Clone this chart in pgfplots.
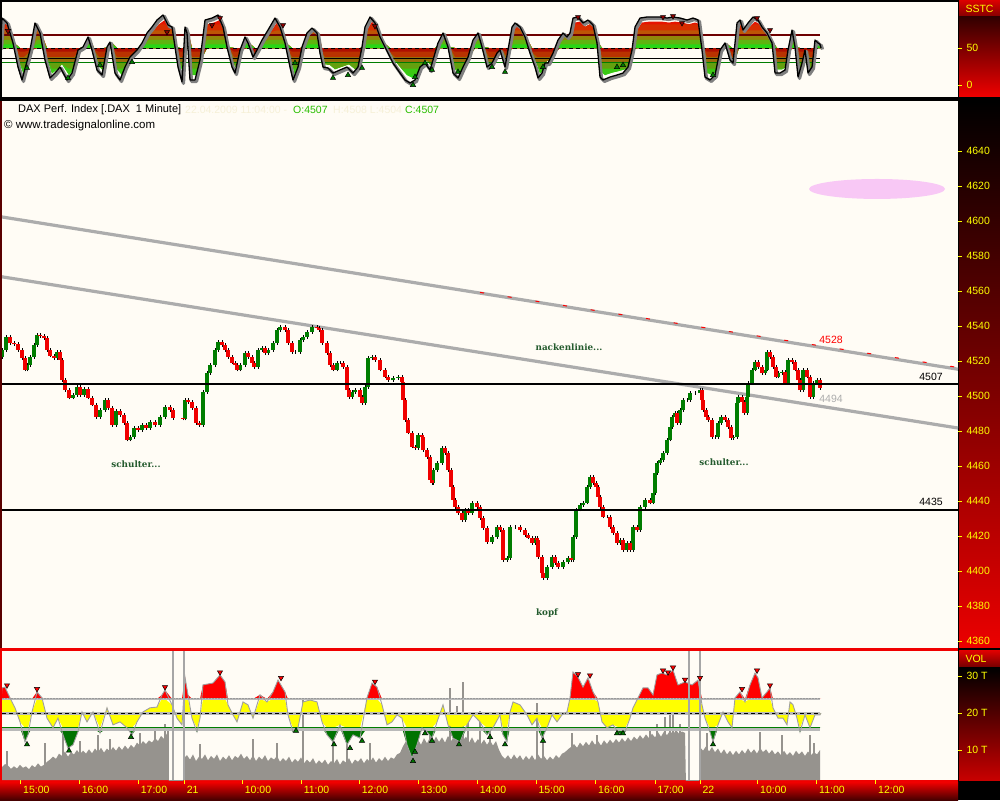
\documentclass[border=0pt]{standalone}
\usepackage{fontspec}
\setmainfont{Liberation Sans}
\newfontfamily\annotfont{DejaVu Serif}
\usepackage{pgfplots}
\usepackage{pgfplotstable}
\pgfplotsset{compat=1.18}

\definecolor{cream}{RGB}{255,252,245}
\definecolor{cgreen}{RGB}{0,125,0}
\definecolor{cred}{RGB}{240,0,0}
\definecolor{trend}{RGB}{172,172,172}
\definecolor{annot}{RGB}{35,90,45}
\definecolor{tickyellow}{RGB}{255,255,0}
\definecolor{volgray}{RGB}{150,147,142}
\definecolor{ogreen}{RGB}{40,190,0}
\definecolor{faint}{RGB}{246,240,215}
\definecolor{pinkell}{RGB}{248,200,245}
\definecolor{vyellow}{RGB}{255,255,0}
\definecolor{vgreen}{RGB}{0,115,0}
\definecolor{vred}{RGB}{255,0,0}
\definecolor{lvlred}{RGB}{110,0,0}
\definecolor{gutred}{RGB}{235,0,0}
\definecolor{darkred}{RGB}{90,0,0}
% SSTC gradient bands
\definecolor{sa1}{RGB}{40,215,20}
\definecolor{sa2}{RGB}{95,180,15}
\definecolor{sa3}{RGB}{145,135,10}
\definecolor{sa4}{RGB}{190,85,5}
\definecolor{sa5}{RGB}{215,45,0}
\definecolor{sa6}{RGB}{230,20,0}
\definecolor{sb1}{RGB}{175,15,0}
\definecolor{sb2}{RGB}{185,50,0}
\definecolor{sb3}{RGB}{150,110,10}
\definecolor{sb4}{RGB}{100,160,15}
\definecolor{sb5}{RGB}{60,200,20}
\definecolor{sb6}{RGB}{40,215,20}

\newcommand\fs{\fontsize{10.5}{12}\selectfont}
\newcommand\sig{(50+0.85*(\thisrow{v}-50))}

\pgfplotstableread{
x o c
2 4522.0 4526.3
6 4526.3 4533.7
10 4533.7 4530.3
14 4530.3 4529.7
18 4529.7 4526.3
22 4526.3 4521.7
25 4521.7 4514.9
27 4514.9 4517.7
30 4517.7 4522.3
34 4522.3 4529.1
37 4529.1 4534.9
40 4534.9 4534.3
44 4534.3 4533.1
47 4533.1 4526.3
50 4526.3 4522.9
54 4522.9 4521.7
57 4521.7 4525.1
60 4525.1 4520.6
62 4520.6 4509.1
65 4509.1 4503.4
69 4503.4 4498.9
73 4498.9 4500.6
77 4500.6 4505.1
80 4505.1 4500.6
84 4500.6 4504.0
88 4504.0 4498.9
92 4498.9 4494.9
96 4494.9 4488.0
100 4488.0 4492.0
105 4492.0 4497.7
108 4497.7 4493.1
112 4493.1 4483.4
116 4483.4 4491.4
120 4491.4 4489.1
124 4489.1 4484.6
127 4484.6 4474.9
130 4474.9 4476.6
134 4476.6 4481.7
138 4481.7 4480.6
142 4480.6 4483.4
146 4483.4 4481.7
150 4481.7 4485.1
155 4485.1 4483.4
160 4483.4 4488.0
165 4488.0 4493.7
170 4493.7 4492.0
173 4492.0 4487.4
183 4487.4 4486.9
185 4486.9 4497.7
188 4497.7 4496.6
192 4496.6 4493.1
196 4493.1 4484.6
199 4484.6 4483.4
203 4483.4 4502.3
207 4502.3 4513.1
210 4513.1 4517.7
215 4517.7 4526.3
218 4526.3 4530.9
222 4530.9 4529.1
225 4529.1 4526.3
228 4526.3 4522.3
232 4522.3 4518.9
235 4518.9 4517.7
237 4517.7 4514.9
240 4514.9 4517.7
245 4517.7 4524.6
248 4524.6 4522.3
252 4522.3 4518.9
254 4518.9 4516.6
258 4516.6 4526.3
262 4526.3 4527.4
265 4527.4 4524.6
268 4524.6 4526.3
273 4526.3 4530.3
277 4530.3 4537.7
280 4537.7 4539.4
285 4539.4 4537.7
288 4537.7 4530.3
292 4530.3 4525.1
295 4525.1 4525.1
300 4525.1 4532.0
303 4532.0 4533.7
307 4533.7 4536.6
312 4536.6 4539.4
317 4539.4 4538.9
319 4538.9 4537.7
322 4537.7 4530.3
327 4530.3 4524.6
330 4524.6 4517.7
333 4517.7 4514.9
337 4514.9 4518.9
340 4518.9 4518.9
343 4518.9 4516.6
347 4516.6 4503.4
349 4503.4 4499.4
352 4499.4 4502.3
355 4502.3 4503.4
360 4503.4 4499.4
362 4499.4 4496.0
365 4496.0 4505.1
368 4505.1 4521.7
372 4521.7 4522.3
375 4522.3 4520.6
380 4520.6 4514.9
385 4514.9 4510.9
388 4510.9 4509.1
393 4509.1 4510.3
398 4510.3 4510.9
402 4510.9 4508.0
403 4508.0 4497.7
405 4497.7 4486.3
408 4486.3 4478.9
412 4478.9 4470.9
415 4470.9 4470.3
418 4470.3 4477.7
422 4477.7 4476.6
423 4476.6 4469.1
427 4469.1 4465.1
430 4465.1 4452.0
432 4452.0 4450.3
433 4450.3 4457.7
437 4457.7 4461.7
442 4461.7 4470.3
445 4470.3 4467.4
448 4467.4 4457.7
451 4457.7 4448.0
453 4448.0 4440.6
455 4440.6 4436.6
458 4436.6 4433.1
462 4433.1 4429.1
465 4429.1 4434.9
468 4434.9 4433.1
472 4433.1 4438.9
477 4438.9 4436.6
480 4436.6 4430.3
483 4430.3 4424.6
487 4424.6 4416.6
492 4416.6 4419.4
497 4419.4 4425.1
500 4425.1 4423.4
503 4423.4 4406.3
507 4406.3 4407.4
510 4407.4 4425.1
515 4425.1 4425.1
520 4425.1 4423.4
525 4423.4 4420.6
528 4420.6 4418.9
532 4418.9 4416.0
535 4416.0 4418.9
537 4418.9 4417.7
538 4417.7 4408.0
542 4408.0 4398.9
543 4398.9 4396.0
547 4396.0 4402.3
552 4402.3 4408.0
555 4408.0 4404.6
558 4404.6 4402.3
563 4402.3 4405.1
568 4405.1 4407.4
571 4407.4 4406.3
573 4406.3 4419.4
576 4419.4 4434.9
580 4434.9 4437.7
583 4437.7 4438.9
587 4438.9 4448.0
590 4448.0 4453.7
593 4453.7 4450.3
596 4450.3 4448.0
598 4448.0 4442.3
600 4442.3 4436.6
603 4436.6 4430.9
607 4430.9 4430.9
610 4430.9 4425.1
613 4425.1 4421.7
617 4421.7 4416.0
620 4416.0 4417.7
623 4417.7 4412.0
627 4412.0 4416.0
630 4416.0 4412.0
633 4412.0 4425.1
637 4425.1 4423.4
640 4423.4 4436.6
645 4436.6 4440.6
650 4440.6 4438.9
653 4438.9 4444.6
655 4444.6 4456.0
657 4456.0 4461.7
660 4461.7 4463.4
663 4463.4 4467.4
667 4467.4 4474.9
670 4474.9 4482.3
672 4482.3 4488.0
675 4488.0 4490.3
677 4490.3 4484.6
680 4484.6 4492.0
683 4492.0 4497.7
687 4497.7 4497.7
690 4497.7 4501.7
695 4501.7 4501.7
700 4501.7 4503.4
702 4503.4 4497.7
703 4497.7 4492.0
706 4492.0 4488.0
708 4488.0 4486.3
712 4486.3 4476.6
715 4476.6 4476.6
718 4476.6 4484.6
721 4484.6 4488.0
725 4488.0 4486.3
728 4486.3 4482.3
731 4482.3 4476.0
733 4476.0 4476.6
737 4476.6 4496.0
738 4496.0 4499.4
742 4499.4 4496.6
744 4496.6 4490.3
747 4490.3 4499.4
748 4499.4 4507.4
752 4507.4 4514.9
755 4514.9 4519.4
758 4519.4 4516.6
762 4516.6 4513.1
765 4513.1 4514.9
767 4514.9 4525.1
770 4525.1 4522.3
773 4522.3 4516.6
776 4516.6 4510.9
778 4510.9 4513.1
782 4513.1 4513.7
785 4513.7 4507.4
788 4507.4 4520.6
792 4520.6 4519.4
795 4519.4 4514.9
798 4514.9 4509.1
800 4509.1 4503.4
803 4503.4 4514.9
807 4514.9 4510.9
810 4510.9 4499.4
813 4499.4 4507.4
817 4507.4 4509.1
820 4509.1 4504.6
}\price

\pgfplotstableread{
x v
0 50
2 90.5
7 83.8
13 56.8
18 24.3
22 6.8
30 47.3
35 83.8
40 70.3
45 33.8
50 9.5
55 16.2
60 24.3
67 6.8
72 16.2
78 47.3
83 51.4
88 64.9
92 47.3
97 20.3
102 13.5
107 51.4
110 58.1
115 16.2
120 6.8
125 24.3
130 37.8
137 47.3
142 56.8
147 70.3
152 78.4
157 87.8
163 94.6
168 81.1
172 78.4
175 51.4
178 24.3
182 4.1
185 78.4
187 70.3
190 6.8
195 6.8
200 33.8
205 87.8
212 90.5
218 94.6
223 78.4
227 51.4
232 24.3
235 16.2
240 47.3
245 64.9
248 56.8
253 37.8
257 47.3
262 60.8
268 74.3
275 90.5
280 78.4
285 56.8
290 24.3
293 6.8
298 24.3
302 51.4
307 70.3
312 77.0
317 70.3
320 43.2
323 24.3
328 23.0
333 16.2
340 20.3
347 24.3
353 16.2
358 24.3
362 51.4
365 78.4
370 91.9
375 83.8
380 64.9
383 56.8
388 43.2
393 29.7
400 16.2
405 6.8
410 2.7
415 6.8
420 24.3
425 29.7
430 20.3
433 33.8
438 56.8
443 70.3
448 51.4
453 16.2
458 9.5
463 24.3
468 37.8
473 60.8
478 70.3
482 51.4
487 24.3
492 29.7
497 43.2
500 47.3
505 24.3
508 47.3
512 78.4
515 83.8
520 78.4
525 64.9
530 43.2
535 24.3
538 9.5
542 16.2
545 29.7
548 29.7
553 43.2
558 60.8
563 70.3
567 64.9
570 70.3
573 90.5
578 91.9
583 83.8
588 87.8
593 81.1
597 56.8
600 10.8
603 6.8
610 10.8
617 13.5
623 16.2
628 24.3
632 47.3
635 78.4
640 90.5
647 91.9
653 91.9
660 91.9
667 90.5
673 91.9
680 90.5
687 87.8
693 90.5
698 87.8
702 47.3
705 10.8
710 6.8
715 13.5
720 47.3
725 56.8
730 33.8
733 29.7
737 83.8
740 87.8
743 74.3
748 83.8
753 91.9
758 87.8
762 78.4
767 70.3
772 56.8
775 16.2
780 16.2
785 20.3
788 47.3
792 74.3
795 51.4
798 10.8
802 29.7
805 47.3
808 16.2
812 24.3
815 60.8
818 56.8
820 55.0
821 50
}\sstc

\pgfplotstableread{
x v
0 20
2 26.8
5 27.0
10 24.1
15 21.4
20 17.6
25 12.2
28 14.1
32 20.3
37 25.7
42 24.1
47 18.6
53 16.0
58 18.6
63 14.1
68 10.5
73 11.4
78 14.9
82 20.3
87 17.6
93 20.3
100 14.6
107 21.4
113 16.8
120 17.6
127 16.0
132 14.1
137 17.6
143 20.3
150 21.4
157 21.6
162 24.9
165 26.2
172 22.2
177 18.6
182 16.8
185 29.7
188 24.9
192 18.6
197 14.9
200 18.6
203 27.6
213 28.1
220 30.3
225 28.4
228 22.2
233 19.5
237 17.6
243 23.0
248 22.2
253 18.6
260 24.9
267 23.0
273 25.7
278 28.9
285 25.7
288 19.5
293 14.9
298 16.0
303 23.0
310 23.5
317 23.0
322 17.6
327 14.1
333 12.2
340 16.8
347 11.4
353 14.1
360 13.2
367 24.1
372 28.1
377 27.0
382 22.2
387 16.8
392 17.6
397 19.5
402 18.6
407 11.4
412 7.8
417 11.4
422 16.0
427 14.9
432 13.2
437 17.6
443 22.2
448 16.8
453 13.2
460 12.2
467 16.8
473 19.5
480 17.6
487 14.1
493 16.0
500 19.5
503 14.1
507 12.2
510 20.3
513 23.0
520 22.2
527 19.5
532 16.8
537 18.6
542 13.2
547 16.0
552 19.5
557 17.6
562 19.5
567 20.3
570 24.1
573 31.1
578 29.7
583 27.0
588 29.5
593 25.7
598 23.0
602 17.6
607 16.0
613 16.8
620 14.1
625 14.9
630 18.6
633 21.4
638 24.1
643 26.8
648 26.8
653 24.9
657 30.3
662 30.8
667 30.3
673 31.6
678 27.6
685 28.4
692 27.6
698 28.9
702 22.2
705 18.6
710 14.9
713 12.2
718 16.8
723 20.3
728 17.6
732 16.0
735 24.1
740 25.7
745 23.0
750 27.6
755 30.8
758 29.5
762 24.1
767 25.7
770 26.8
773 21.4
778 18.6
783 18.6
787 16.8
790 23.0
793 22.2
797 18.6
800 14.9
805 19.5
810 16.0
815 19.5
820 19.5
821 20
}\vosc

\pgfplotstableread{
x v
2 5.4
5 6.2
8 5.8
11 4.9
14 5.6
17 5.0
20 6.0
23 5.2
26 5.6
29 4.8
32 5.9
35 5.3
38 6.4
41 5.5
44 6.0
47 6.8
50 7.4
53 8.2
56 7.6
59 9.0
62 8.4
65 9.6
68 8.2
71 9.4
74 8.8
77 10.0
80 8.9
83 9.8
86 9.0
89 10.2
92 9.1
95 10.4
98 9.4
101 10.6
104 9.3
107 10.4
110 9.6
113 10.8
116 9.8
119 11.0
122 10.0
125 11.2
128 10.2
131 11.4
134 10.6
137 12.0
140 11.2
143 12.4
146 11.6
149 12.6
152 12.0
155 13.2
158 12.4
161 13.8
164 13.0
167 14.5
168 14.0
169 0
183 0
184 7.8
187 8.6
190 7.4
193 8.8
196 7.0
199 8.2
202 7.6
205 8.8
208 7.2
211 8.4
214 7.6
217 8.8
220 7.0
223 8.2
226 7.4
229 8.6
232 7.2
235 8.4
238 7.8
241 9.0
244 7.6
247 8.4
250 7.2
253 8.6
256 7.0
259 8.2
262 7.4
265 8.6
268 7.0
271 8.0
274 7.4
277 8.4
280 6.8
283 7.8
286 7.0
289 8.2
292 6.6
295 7.6
298 6.8
301 8.0
304 6.4
307 7.4
310 6.6
313 7.8
316 6.2
319 7.2
322 6.4
325 7.4
328 6.0
331 7.0
334 6.4
337 7.6
340 6.0
343 7.2
346 6.6
349 7.8
352 6.2
355 7.4
358 6.8
361 7.8
364 6.4
367 7.6
370 6.8
373 8.0
376 6.6
379 7.8
382 7.0
385 8.2
388 7.0
391 8.0
394 7.6
397 8.8
400 9.2
403 11.0
406 12.4
409 11.2
412 13.0
415 11.6
418 12.8
421 11.4
424 13.2
427 11.8
430 13.4
433 12.0
436 13.6
439 12.2
442 13.4
445 12.0
448 13.8
451 12.4
454 13.6
457 12.2
460 14.0
463 12.6
466 13.6
469 12.0
472 13.4
475 11.8
478 13.0
481 11.6
484 12.8
487 11.4
490 12.6
493 11.2
496 12.4
499 10.0
502 8.4
505 7.6
508 8.6
511 7.4
514 8.8
517 7.6
520 8.6
523 7.2
526 8.4
529 7.4
532 8.6
535 7.2
538 8.8
541 7.6
544 8.4
547 7.2
550 8.2
553 7.4
556 8.6
559 7.8
562 9.0
565 9.4
568 10.2
571 10.8
574 11.6
577 10.6
580 12.0
583 11.0
586 12.2
589 11.2
592 12.6
595 11.4
598 12.4
601 11.2
604 12.6
607 11.6
610 12.8
613 11.8
616 13.0
619 12.0
622 13.2
625 12.2
628 13.4
631 12.4
634 13.6
637 12.8
640 14.0
643 13.0
646 14.2
649 13.2
652 14.4
655 13.4
658 14.8
661 13.6
664 15.0
667 14.0
670 15.2
673 14.2
676 15.4
679 14.4
682 15.0
685 14.6
686 0
699 0
700 10.8
703 9.8
706 11.0
709 9.6
712 10.8
715 9.4
718 10.4
721 9.0
724 10.2
727 8.8
730 9.8
733 8.6
736 9.8
739 8.8
742 10.0
745 9.0
748 10.4
751 9.2
754 10.2
757 9.0
760 10.6
763 9.4
766 10.2
769 9.0
772 10.0
775 8.8
778 9.6
781 8.6
784 9.8
787 8.6
790 9.4
793 8.4
796 9.8
799 8.8
802 9.6
805 8.4
808 9.6
811 8.6
814 9.4
817 8.8
820 10.0
}\vol

\pgfplotstableread{
x v
7 9.6
45 12.0
63 14.9
80 12.5
98 14.0
110 13.0
140 14.5
155 16.0
165 17.0
168 16.0
200 11.5
253 13.0
277 12.0
303 24.0
333 14.0
347 15.0
370 12.0
412 16.0
430 18.0
450 26.8
457 22.0
463 28.4
468 20.0
480 20.5
490 17.0
537 22.7
543 14.0
572 14.5
597 14.0
650 16.0
657 17.0
665 19.0
670 22.5
673 24.0
680 17.0
707 14.5
760 15.0
782 14.0
810 14.0
814 12.0
}\volspk

\pgfplotsset{
  panel/.style={
    scale only axis, width=956pt, xmin=2, xmax=958,
    axis background/.style={fill=cream},
    axis line style={draw=none},
    xtick=\empty,
    ytick pos=right, yticklabel pos=right,
    tick align=outside, major tick length=4pt,
    tick style={tickyellow, line width=0.9pt},
    yticklabel style={font=\fs, text=tickyellow, xshift=1pt},
    /pgf/number format/1000 sep={},
    /pgf/number format/assume math mode=true,
  },
}

\begin{document}
\begin{tikzpicture}[x=1pt,y=1pt]
\fill[black] (0,0) rectangle (1000,800);
% gutters
\shade[top color={rgb,255:red,220;green,0;blue,0}, bottom color={rgb,255:red,130;green,0;blue,0}] (959,783) rectangle (1000,800);
\shade[top color={rgb,255:red,50;green,0;blue,0}, bottom color={rgb,255:red,240;green,0;blue,0}] (959,703) rectangle (1000,783);
\shade[top color=black, bottom color=gutred] (959,152) rectangle (1000,699);
\fill[cred] (0,18) rectangle (958,152);
\shade[top color={rgb,255:red,220;green,0;blue,0}, bottom color={rgb,255:red,110;green,0;blue,0}] (959,132) rectangle (1000,149);
\shade[top color=black, bottom color={rgb,255:red,200;green,0;blue,0}] (959,20) rectangle (1000,132);
\shade[top color={rgb,255:red,240;green,0;blue,0}, bottom color={rgb,255:red,70;green,0;blue,0}] (0,0) rectangle (958,18);
\fill[darkred] (0,152) rectangle (2,699);

% ---------------- SSTC panel ----------------
\begin{axis}[panel, at={(2pt,703pt)}, anchor=south west, height=95pt,
  ymin=-16.2, ymax=112.2, ytick={0,50}]
% fill above 50: nested layers, all closed along 50
\addplot[draw=none, fill=sa6] table[x expr={\thisrow{x}+2}, y expr={max(\sig,50)}] {\sstc} -- cycle;
\addplot[draw=none, fill=sa5] table[x expr={\thisrow{x}+2}, y expr={min(max(\sig,50),82)}] {\sstc} -- cycle;
\addplot[draw=none, fill=sa4] table[x expr={\thisrow{x}+2}, y expr={min(max(\sig,50),74)}] {\sstc} -- cycle;
\addplot[draw=none, fill=sa3] table[x expr={\thisrow{x}+2}, y expr={min(max(\sig,50),67)}] {\sstc} -- cycle;
\addplot[draw=none, fill=sa2] table[x expr={\thisrow{x}+2}, y expr={min(max(\sig,50),61)}] {\sstc} -- cycle;
\addplot[draw=none, fill=sa1] table[x expr={\thisrow{x}+2}, y expr={min(max(\sig,50),55)}] {\sstc} -- cycle;
% fill below 50
\addplot[draw=none, fill=sb6] table[x expr={\thisrow{x}+2}, y expr={min(\sig,50)}] {\sstc} -- cycle;
\addplot[draw=none, fill=sb5] table[x expr={\thisrow{x}+2}, y expr={max(min(\sig,50),14)}] {\sstc} -- cycle;
\addplot[draw=none, fill=sb4] table[x expr={\thisrow{x}+2}, y expr={max(min(\sig,50),22)}] {\sstc} -- cycle;
\addplot[draw=none, fill=sb3] table[x expr={\thisrow{x}+2}, y expr={max(min(\sig,50),30)}] {\sstc} -- cycle;
\addplot[draw=none, fill=sb2] table[x expr={\thisrow{x}+2}, y expr={max(min(\sig,50),38)}] {\sstc} -- cycle;
\addplot[draw=none, fill=sb1] table[x expr={\thisrow{x}+2}, y expr={max(min(\sig,50),45)}] {\sstc} -- cycle;
\addplot[lvlred, line width=1.8pt] coordinates {(2,67.3) (820,67.3)};
\addplot[black, line width=0.9pt, dash pattern=on 4pt off 3pt] coordinates {(2,50) (820,50)};
\addplot[black, line width=0.9pt] coordinates {(2,36.1) (820,36.1)};
\addplot[cgreen, line width=0.9pt] coordinates {(2,30.7) (820,30.7)};
\addplot[gray, line width=3.2pt, line join=round]
  table[x expr={\thisrow{x}+1.5}, y expr={\thisrow{v}-2}] {\sstc};
\addplot[black, line width=1.3pt, line join=round] table[x=x, y=v] {\sstc};
\addplot[only marks, mark=triangle*, mark size=3pt,
  mark options={rotate=180, fill=lvlred!80!red, draw=black, line width=0.5pt}]
  coordinates {(8,73) (167,71.6) (212,81) (220,90.5) (283,81) (375,79.7) (578,91.9) (663,91.9) (673,93.2) (682,83.8) (757,90.5) (770,74.3)};
\addplot[only marks, mark=triangle*, mark size=3pt,
  mark options={fill=cgreen, draw=black, line width=0.5pt}]
  coordinates {(27,23) (68,9.5) (100,27) (132,31) (295,29.7) (333,9.5) (348,13.5) (362,23) (413,0) (415,10.8) (425,29.7) (432,20.3) (458,17.6) (492,24.3) (505,17.6) (543,24.3) (617,24.3) (623,27) (713,13.5)};
\end{axis}

% ---------------- Main price panel ----------------
\begin{axis}[panel, at={(2pt,152pt)}, anchor=south west, height=547pt,
  ymin=4356, ymax=4668.57, ytick={4360,4380,...,4640}]
\fill[pinkell] (axis cs:877,4618.3) ellipse [x radius=68, y radius=5.7];
\addplot[trend, line width=3.2pt] coordinates {(2,4568.1) (958,4481.7)};
\addplot[trend, line width=3.2pt] coordinates {(2,4602.3) (958,4515.3)};
\addplot[red, line width=1pt, dash pattern=on 4pt off 24pt] coordinates {(480,4559.2) (958,4516.3)};
% wicks
\addplot[draw=none, mark=none, error bars/.cd, y dir=plus, y explicit, error mark=none,
  error bar style={draw=black, line width=0.7pt}]
  table[x=x, y expr={min(\thisrow{o},\thisrow{c})-0.9}, y error expr={abs(\thisrow{c}-\thisrow{o})+1.8}] {\price};
% up candles
\addplot[draw=none, mark=none, restrict expr to domain={\thisrow{c}-\thisrow{o}}{0:1000},
  error bars/.cd, y dir=plus, y explicit, error mark=none,
  error bar style={draw=cgreen, line width=4.3pt}]
  table[x=x, y=o, y error expr={\thisrow{c}-\thisrow{o}}] {\price};
% down candles
\addplot[draw=none, mark=none, restrict expr to domain={\thisrow{o}-\thisrow{c}}{0.001:1000},
  error bars/.cd, y dir=plus, y explicit, error mark=none,
  error bar style={draw=cred, line width=4.3pt}]
  table[x=x, y=c, y error expr={\thisrow{o}-\thisrow{c}}] {\price};
\addplot[black, line width=2pt] coordinates {(2,4507) (958,4507)};
\addplot[black, line width=2pt] coordinates {(2,4435) (958,4435)};
\node[font=\fs, text=black] at (axis cs:931,4510.9) {4507};
\node[font=\fs, text=black] at (axis cs:931,4439.4) {4435};
\node[font=\fs, text=red] at (axis cs:831,4532) {4528};
\node[font=\fs, text=trend] at (axis cs:831,4498.3) {4494};
\node[font=\annotfont\bfseries\fontsize{8.8}{10}\selectfont, text=annot] at (axis cs:136,4461.1) {schulter...};
\node[font=\annotfont\bfseries\fontsize{8.8}{10}\selectfont, text=annot] at (axis cs:569,4528.0) {nackenlinie...};
\node[font=\annotfont\bfseries\fontsize{8.8}{10}\selectfont, text=annot] at (axis cs:547,4376.0) {kopf};
\node[font=\annotfont\bfseries\fontsize{8.8}{10}\selectfont, text=annot] at (axis cs:724,4462.3) {schulter...};
\end{axis}

% ---------------- Volume panel ----------------
\begin{axis}[panel, at={(2pt,20pt)}, anchor=south west, height=129pt,
  ymin=1.892, ymax=36.757, ytick={10,20,30}, yticklabels={10 T,20 T,30 T},
  xtick={20.7,79.3,138.3,184.3,242.3,301.3,359.3,418.3,477.3,536,595.7,655,700,757.7,816.7,875.7},
  xticklabels={15:00,16:00,17:00,21,10:00,11:00,12:00,13:00,14:00,15:00,16:00,17:00,22,10:00,11:00,12:00},
  xtick pos=left, major tick length=4pt,
  xticklabel style={font=\fs, text=tickyellow, anchor=north west, xshift=-1pt, yshift=1pt}]
\addplot[fill=volgray, draw=none] table[x=x, y=v] {\vol} \closedcycle;
\addplot[ycomb, volgray, line width=1.2pt] table[x=x, y=v] {\volspk};
\addplot[draw=none, fill=vred] table[x=x, y expr={max(\thisrow{v},23.8)}] {\vosc} -- cycle;
\addplot[draw=none, fill=vyellow] table[x=x, y expr={min(max(\thisrow{v},16),23.8)}] {\vosc} -- cycle;
\addplot[draw=none, fill=vgreen] table[x=x, y expr={min(\thisrow{v},16)}] {\vosc} -- cycle;
\addplot[gray!55, line width=2.6pt] coordinates {(2,23.8) (820,23.8)};
\addplot[gray!80, line width=1pt, dash pattern=on 1.5pt off 1.5pt] coordinates {(2,23.8) (820,23.8)};
\addplot[gray!55, line width=2.6pt] coordinates {(2,19.8) (820,19.8)};
\addplot[black, line width=0.9pt, dash pattern=on 4pt off 3pt] coordinates {(2,20) (820,20)};
\addplot[gray!55, line width=2.6pt] coordinates {(2,15.6) (820,15.6)};
\addplot[cgreen, line width=0.9pt] coordinates {(2,16) (820,16)};
\addplot[gray!75, line width=0.9pt] table[x=x, y=v] {\vosc};
\addplot[gray!70, line width=1.8pt] coordinates {(173,1.892) (173,36.757)};
\addplot[gray!70, line width=1.8pt] coordinates {(184,1.892) (184,36.757)};
\addplot[gray!70, line width=1.8pt] coordinates {(689,1.892) (689,36.757)};
\addplot[gray!70, line width=1.8pt] coordinates {(700,1.892) (700,36.757)};
\addplot[only marks, mark=triangle*, mark size=3pt,
  mark options={rotate=180, fill=vred, draw=black, line width=0.5pt}]
  coordinates {(7,27.5) (37,26.5) (165,27) (220,31) (281,29.5) (375,28.5) (578,30.5) (590,30.2) (663,31.5) (668,31) (673,32.3) (685,29) (700,29.5) (742,26.5) (757,31.5) (770,27.5)};
\addplot[only marks, mark=triangle*, mark size=3pt,
  mark options={fill=vgreen, draw=black, line width=0.5pt}]
  coordinates {(27,11.5) (69,9.8) (131,13.5) (296,15.2) (334,11.5) (350,10.5) (362,12.5) (413,7) (415,9.5) (425,14.5) (432,12.5) (459,11.5) (490,13.5) (505,11.5) (543,12.5) (617,14.5) (623,14.5) (713,11.5)};
\end{axis}

% ---------------- texts ----------------
\node[anchor=west, font=\fs, text=tickyellow] at (962,791) {SSTC};
\node[anchor=west, font=\fs, text=tickyellow] at (962,141) {VOL};
\node[anchor=west, font=\fontsize{11}{13}\selectfont, text=black, inner sep=0pt] at (18,690) {DAX Perf. Index [.DAX\ \ 1 Minute]};
\node[anchor=west, font=\fs, text=faint, inner sep=0pt] at (185,690) {22.04.2009 11:04:00 -};
\node[anchor=west, font=\fs, text=ogreen, inner sep=0pt] at (293,690) {O:4507};
\node[anchor=west, font=\fs, text=faint, inner sep=0pt] at (333,690) {H:4508 L:4504};
\node[anchor=west, font=\fs, text=ogreen, inner sep=0pt] at (405,690) {C:4507};
\node[anchor=west, font=\fontsize{11.5}{13}\selectfont, text=black, inner sep=0pt] at (4,674) {© www.tradesignalonline.com};

\pgfresetboundingbox
\path[use as bounding box] (0,0) rectangle (1000,800);
\end{tikzpicture}
\end{document}
